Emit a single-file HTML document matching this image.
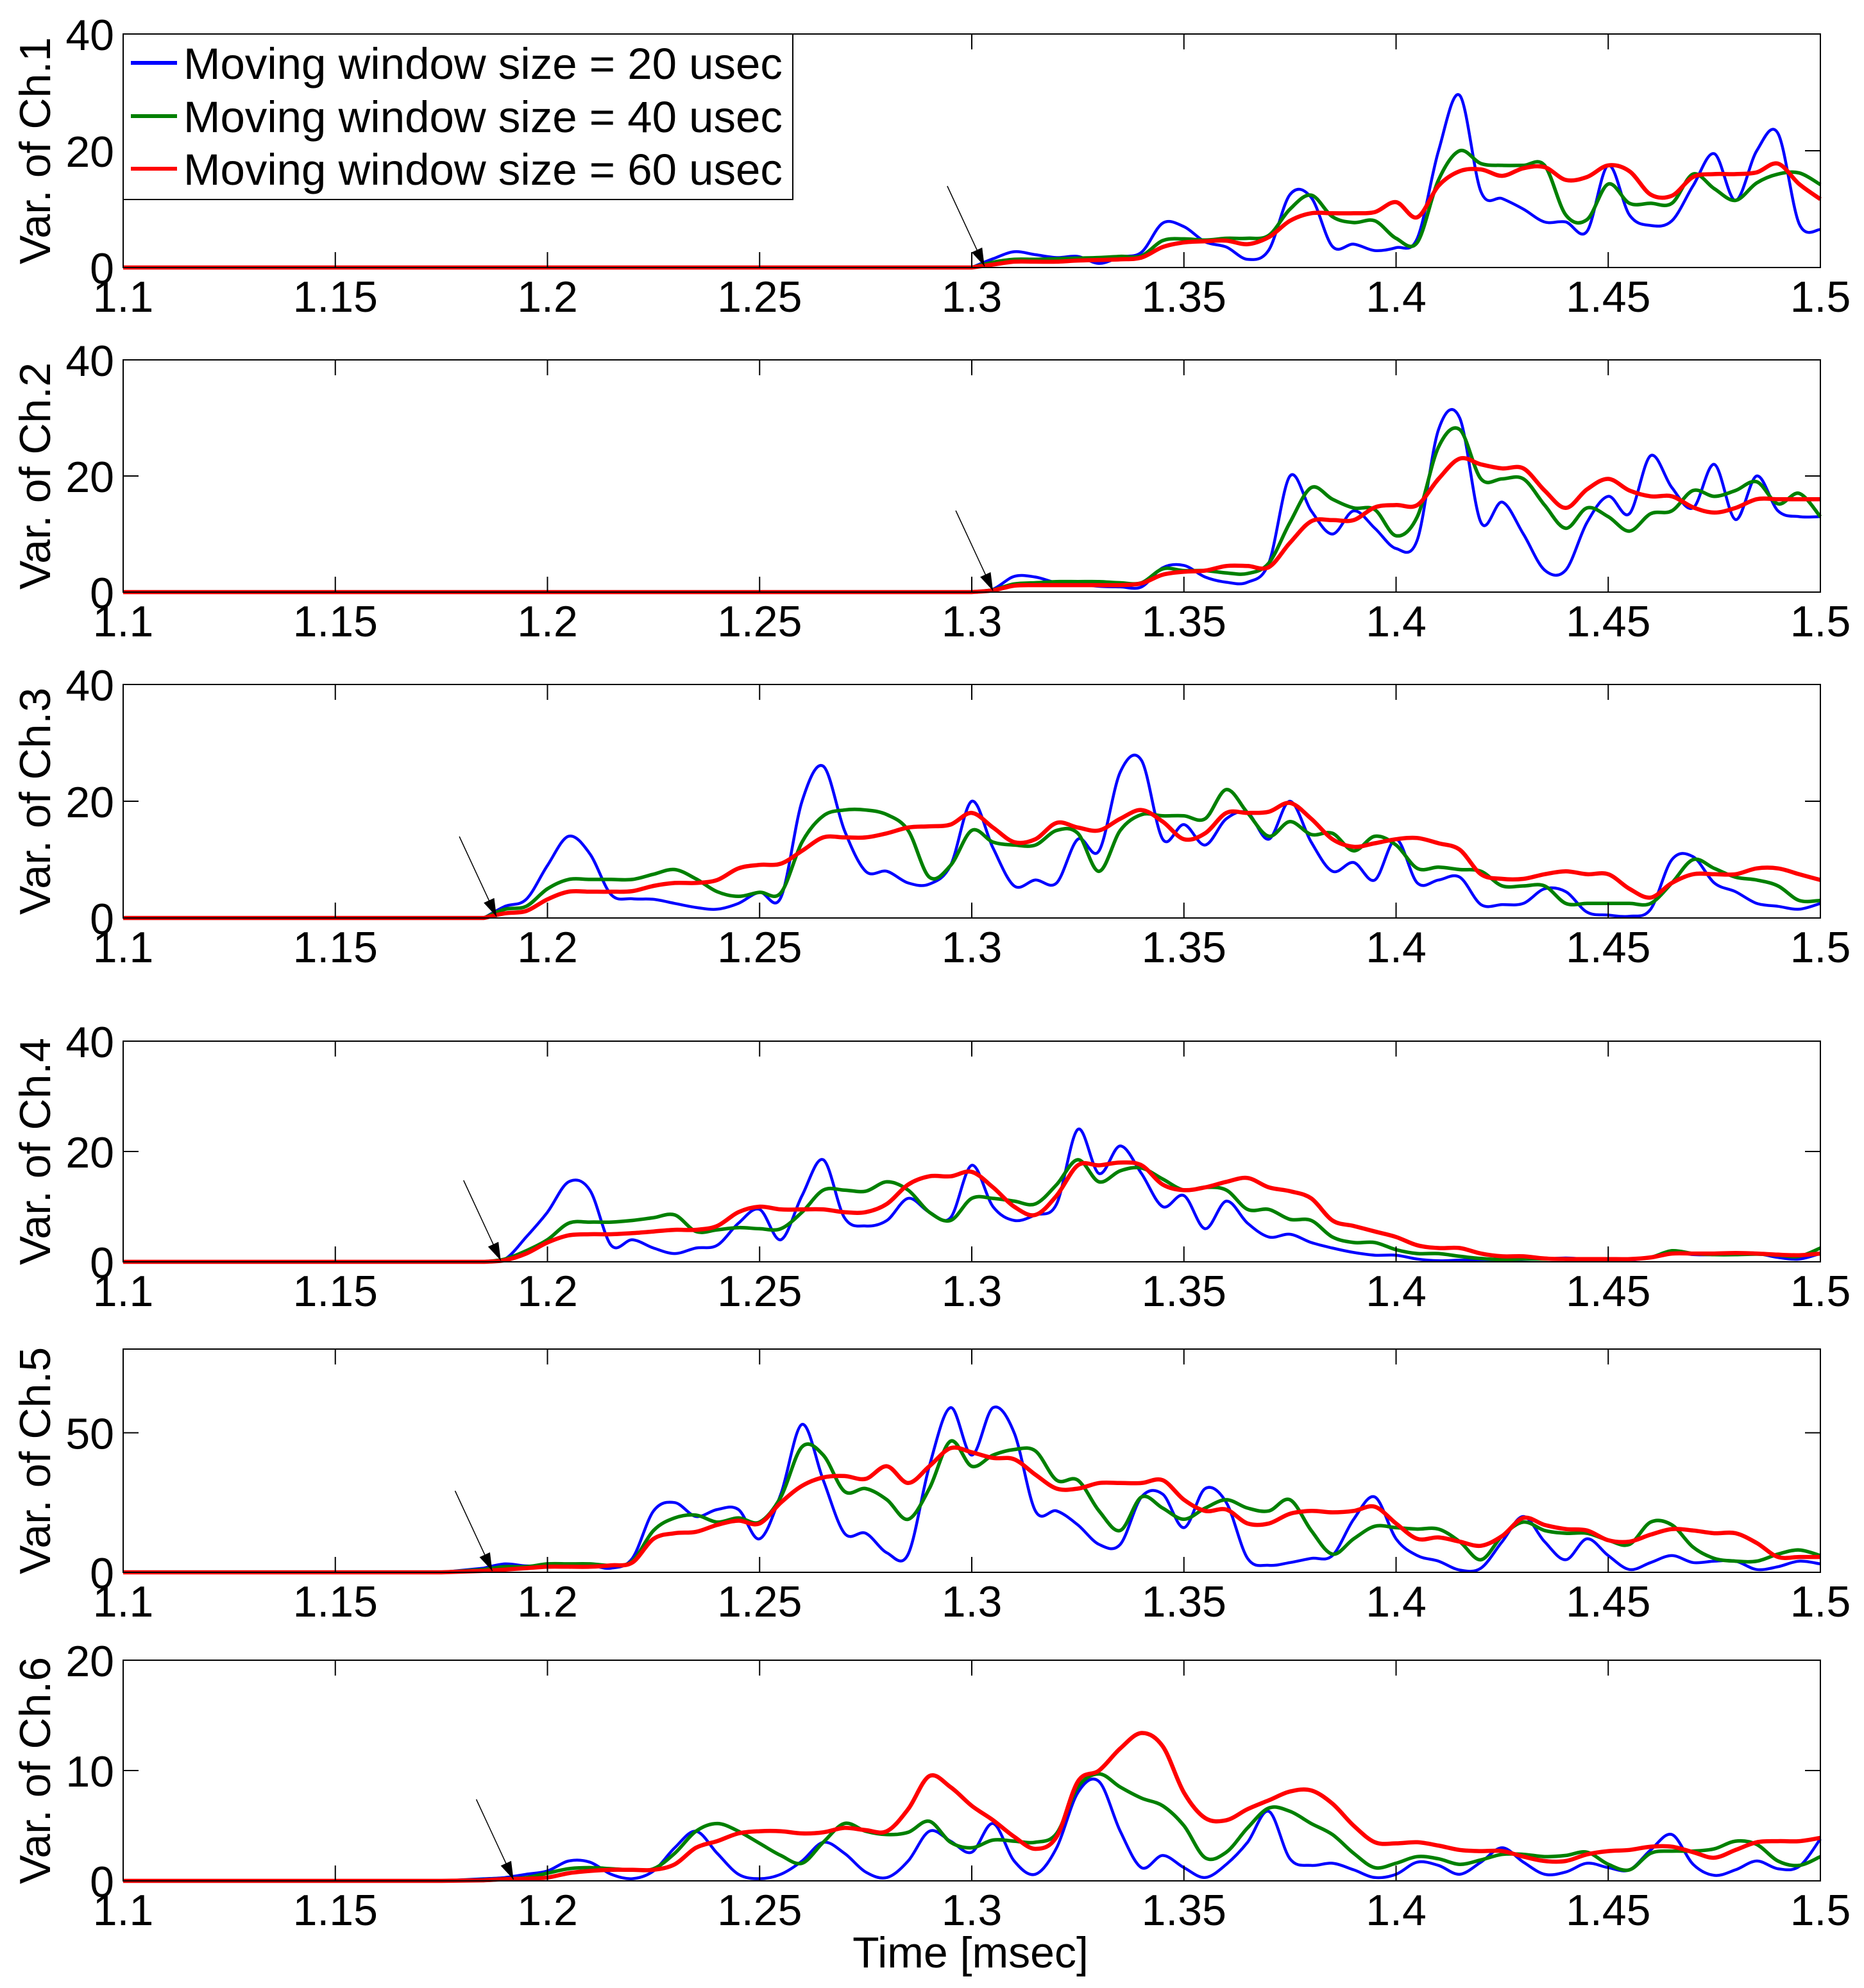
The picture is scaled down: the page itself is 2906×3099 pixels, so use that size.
<!DOCTYPE html>
<html><head><meta charset="utf-8"><style>
html,body{margin:0;padding:0;background:#fff;}
svg{display:block;font-family:"Liberation Sans",Arial,sans-serif;}
</style></head><body>
<svg id="fig" width="2906" height="3099" viewBox="0 0 2906 3099" xmlns="http://www.w3.org/2000/svg">
<rect x="0" y="0" width="2906" height="3099" fill="#fff"/>
<g id="root"></g>
</svg>
<script>
// x tick labels
const xTicks = [1.1,1.15,1.2,1.25,1.3,1.35,1.4,1.45,1.5];
const xTickLabels = ["1.1","1.15","1.2","1.25","1.3","1.35","1.4","1.45","1.5"];
const seriesNames = ["Moving window size = 20 usec","Moving window size = 40 usec","Moving window size = 60 usec"];
const channelLabels = ["Var. of Ch.1","Var. of Ch.2","Var. of Ch.3","Var. of Ch.4","Var. of Ch.5","Var. of Ch.6"];
const yMax = [40,40,40,40,80,20];
const yTicks1 = [0,20,40];
const yTicks5 = [0,50];
const yTicks6 = [0,10,20];
const xStart = [1.300,1.300,1.185,1.185,1.185,1.185];
const xStep = 0.005;
const arrowTipX = [1.303,1.305,1.188,1.189,1.187,1.192];

const ch1B=[0,1.5,2.7,2.2,1.7,1.9,0.7,1.8,2.6,7.6,7.0,4.4,3.5,1.4,3.0,12.5,12.0,3.6,4.0,2.9,3.4,5,20,29.5,13,11.8,10,7.8,7.8,6.2,17.5,9,7.2,8,14,19.5,11.5,20,23,7.5,6.5];
const ch1G=[0,0.9,1.4,1.4,1.5,1.6,1.7,1.9,2.0,4.6,4.9,4.7,5.0,5.0,5.5,10,12.4,8.7,7.7,8.0,5,4.3,15,20,17.8,17.5,17.5,17.5,9,8.2,14.3,11,11,11,16,13.5,11.5,14.5,16,16.2,14.2];
const ch1R=[0,0.5,1.0,1.0,1.0,1.2,1.3,1.4,1.7,3.5,4.3,4.5,4.6,4.0,5.2,8.0,9.3,9.3,9.3,9.5,11.2,8.6,14,16.5,16.8,15.7,17,17.2,15,15.5,17.5,16.5,12.5,12.3,15.5,16,16,16.3,17.8,14.3,11.7];

const ch2B=[0,0.5,2.7,2.6,1.6,1.4,1.0,0.9,0.9,4.2,4.6,2.6,1.7,1.7,5,20,14,10,14,11,7.5,9,28,30,12,15.5,10,3.8,3.8,12,16.5,13.5,23.5,18,14.5,22,12.5,20,14,13,13];
const ch2G=[0,0.4,1.4,1.6,1.8,1.8,1.8,1.6,1.6,4.0,3.7,3.7,3.3,3.2,5,12,18,16,14.5,14.2,9.7,13,25,28,19.5,19.5,19.5,15,11,14.5,13,10.5,13.5,14,17.5,16.5,17.5,19,15.2,17,13];
const ch2R=[0,0.3,1.1,1.2,1.2,1.2,1.2,1.2,1.5,3.0,3.5,3.7,4.5,4.5,4.3,8.5,12.2,12.4,12.4,14.6,15,15,19.5,23,22,21.3,21.3,17.5,14.5,17.7,19.5,17.5,16.5,16.5,14.6,13.7,14.5,16,16,16,16];

const ch3B=[0,2,3.2,9,14,11,4,3.3,3.2,2.5,1.8,1.5,2.5,4.4,3.5,20,26,15,8,8,6,5.8,9,20,12,5.5,6.5,6,13.5,11.5,25,27,13.5,16,12.5,17,18,13.5,20,13,8,9.5,6.5,13.5,6,6.5,7,2.3,2.3,2.5,5,4.5,1,0.5,0.3,1.5,10,10.5,6,4.5,2.5,2,1.5,2.5];
const ch3G=[0,1.5,2,5,6.6,6.6,6.6,6.6,7.5,8.3,6.7,4.5,3.7,4.4,4.3,13,17.5,18.5,18.5,17.7,15,7,9,15,13,12.5,12.5,15,14.5,8,15,17.7,17.5,17.5,17,22,18,14,16.5,14.3,14.5,11.5,14,12.5,8.5,8.7,8.3,8,5.5,5.5,5.5,2.5,2.5,2.5,2.5,2.5,6,10,8.5,7,6.5,5.5,3,3];
const ch3R=[0,0.8,1.2,3.2,4.5,4.5,4.5,4.6,5.5,6,6,6.5,8.5,9.1,9.3,11.5,13.8,13.8,13.8,14.5,15.5,15.7,16,18,15.5,13,13.5,16.3,15.5,15,17,18.5,16.5,13.5,14.5,18,18,18.2,19.7,17,13.5,12.2,12.8,13.5,13.7,12.8,11.7,7.5,6.7,6.7,7.5,8.0,7.5,7.5,5,3.5,6,7.5,7.5,7.5,8.5,8.5,7.5,6.5];

const ch4B=[0,0.5,4.5,9,14.5,13,3,4,2.5,1.5,2.5,3,7,9.5,4,12,18.5,8,6.5,7.5,11.5,9,8,17.5,10,7.5,8.5,10.5,24,16,21,16,10,12,6,11,7,4.5,5,3.5,2.5,1.7,1.2,1.2,0.5,0.2,0.3,0.3,0.2,0.4,0.5,0.7,0.5,0.5,0.3,0.8,1.8,1.3,1.3,1.5,1.5,0.8,0.5,1.5];
const ch4G=[0,0.5,2,4,7,7.2,7.2,7.5,8,8.5,5.5,5.8,6.2,6,6,9,13,13,12.8,14.5,13,9,7.5,11.5,11.5,11,10.5,14,18.5,14.5,16.5,17,15,13,13.5,13,9.5,9.5,7.7,7.5,4.5,3.5,3.5,2.2,1.5,1.5,1,0.6,0.4,0.5,0.5,0.5,0.5,0.5,0.5,0.8,2,1.5,1.3,1.3,1.4,1.2,1.0,2.5];
const ch4R=[0,0.3,1.5,3.5,4.8,5,5,5.2,5.5,5.8,5.8,6.5,9,10,9.5,9.5,9.5,9,9,10.5,14,15.5,15.5,16.3,13.5,10,8.5,12,17.5,17.5,18,17.5,14,13,13.5,14.5,15.2,13.5,12.8,11.5,7.5,6.5,5.5,4.5,3,2.5,2.5,1.5,1,1,0.6,0.5,0.5,0.5,0.5,0.8,1.5,1.5,1.5,1.6,1.5,1.3,1.2,1.5];

const ch5B=[1.5,3,2.3,2.5,2.5,2.5,1.5,5,22,25,20,22.5,22.5,12,28,53,33,14,14,7,6.5,38,59,42,59,50,22,22,17,10,10,27,28,16,30,25,5,2.5,3.5,5,6,19,27,12,6,4,0.8,1.5,11,20,11,4.5,12,6,1,3.5,6,3.5,4,4,1,2,4,3];
const ch5G=[1,2,2,3,3,3,2.5,4,15,19.5,20.5,18,19.5,18,27,45,42,29,30,26,19,30,47,38,42,44,43.5,33,33,22,15,27,23,19,23,26,23,22,26,15,6.5,12,16.5,16,15.5,15.5,11,4.5,13,18,15,14,14,11.5,10,18,17,9,5,4,4,6.5,8,6];
const ch5R=[0.5,1,1.5,2,2,2,2.5,3.5,12,14,14.5,17,18.5,17.5,25,31,34,34.5,33.5,38,32,38,44.5,43,41,40.5,35,30,30,32,32,32,33,26,22,22.5,17.5,17.5,21,22,21.5,22,23.5,17.5,12,12.5,11,9.5,13,19.5,17,15.5,15,11.5,11,13.5,15.5,15,14,14,10.5,5.5,5.5,5.5];

const ch6B=[0.2,0.3,0.6,0.9,1.8,1.7,0.6,0.2,0.9,3,4.5,2.5,0.6,0.2,0.6,1.8,3.5,2.5,0.8,0.3,1.8,4.5,3.6,2.6,5.2,1.8,0.6,3,8,9,4.5,1.2,2.3,1.2,0.3,1.5,3.5,6.3,2,1.4,1.6,1.0,0.3,0.6,1.7,1.4,0.6,1.7,3,1.7,0.6,0.8,1.6,1.2,1.0,2.8,4.2,1.5,0.5,1.0,1.8,1.1,1.3,3.8];
const ch6G=[0.1,0.2,0.3,0.7,1.1,1.2,1.1,1,1.1,2.5,4.5,5.2,4.5,3.4,2.3,1.6,3.5,5.2,4.5,4.2,4.4,5.4,3.5,3,3.7,3.6,3.5,4.3,8.5,9.7,8.5,7.5,6.8,5,2.1,2.6,4.8,6.6,6.3,5.2,4.2,2.5,1.2,1.6,2.2,2,1.5,1.9,2.4,2.4,2.2,2.3,2.6,1.5,1.0,2.5,2.7,2.7,2.9,3.6,3.3,1.8,1.4,2.2];
const ch6R=[0.05,0.15,0.2,0.3,0.7,0.9,1,1,1.0,1.5,3,3.6,4.3,4.5,4.5,4.3,4.4,4.8,4.6,4.5,6.5,9.5,8.5,6.8,5.5,4,2.9,4,9,10,12,13.4,12.2,8,5.7,5.5,6.5,7.3,8.1,8.2,7,5,3.5,3.4,3.5,3.2,2.8,2.7,2.7,2.2,1.8,1.8,2.4,2.7,2.8,3.1,3.1,2.6,2.1,2.8,3.5,3.6,3.6,3.9];

const blueSeries=[ch1B,ch2B,ch3B,ch4B,ch5B,ch6B];
const greenSeries=[ch1G,ch2G,ch3G,ch4G,ch5G,ch6G];
const redSeries=[ch1R,ch2R,ch3R,ch4R,ch5R,ch6R];

const NS="http://www.w3.org/2000/svg";
const root=document.getElementById('root');
const L=192,R=2838;
const panelTop=[53,561,1067,1623,2103,2588];
const panelBot=[417,923,1431,1967,2451,2932];
const colors=["#0000ff","#008000","#ff0000"];
const widths=[4.5,5.5,6.5];
function mk(tag,attrs,parent){const e=document.createElementNS(NS,tag);for(const k in attrs)e.setAttribute(k,attrs[k]);(parent||root).appendChild(e);return e;}
function xs(v){return L+(v-1.1)/0.4*(R-L);}
function smoothSegs(pts){
  let d='';
  for(let i=0;i<pts.length-1;i++){
    const p0=pts[i>0?i-1:i],p1=pts[i],p2=pts[i+1],p3=pts[i+2<pts.length?i+2:i+1];
    const c1x=p1[0]+(p2[0]-p0[0])/6,c1y=p1[1]+(p2[1]-p0[1])/6;
    const c2x=p2[0]-(p3[0]-p1[0])/6,c2y=p2[1]-(p3[1]-p1[1])/6;
    d+=' C'+c1x.toFixed(1)+','+c1y.toFixed(1)+' '+c2x.toFixed(1)+','+c2y.toFixed(1)+' '+p2[0].toFixed(1)+','+p2[1].toFixed(1);
  }
  return d;
}

for(let p=0;p<6;p++){
  const T=panelTop[p],B=panelBot[p];
  const ys=v=>B-v/yMax[p]*(B-T);
  const g=mk('g',{});
  
  
  const sets=[blueSeries[p],greenSeries[p],redSeries[p]];
  for(let s=0;s<3;s++){
    const vals=sets[s];
    const pts=[];
    for(let i=0;i<vals.length;i++){pts.push([xs(xStart[p]+i*xStep),ys(vals[i])]);}
    let d='M'+xs(1.1).toFixed(1)+','+ys(0).toFixed(1);
    if(p>=4){d+=' L'+xs(1.175).toFixed(1)+','+ys(0).toFixed(1);}
    d+=' L'+pts[0][0].toFixed(1)+','+pts[0][1].toFixed(1);
    d+=smoothSegs(pts);
    const pl=mk('path',{d:d,fill:'none',stroke:colors[s],'stroke-width':widths[s],'stroke-linejoin':'round'},g);
    
    
  }
  const box=mk('rect',{x:L,y:T,width:R-L,height:B-T,fill:'none',stroke:'#000','stroke-width':2},g);
  
  
  for(let i=0;i<xTicks.length;i++){
    const x=xs(xTicks[i]);
    mk('line',{x1:x,y1:B,x2:x,y2:B-24,stroke:'#000','stroke-width':2},g);
    mk('line',{x1:x,y1:T,x2:x,y2:T+24,stroke:'#000','stroke-width':2},g);
    const t=mk('text',{x:x,y:B+69,'font-size':68,'text-anchor':'middle',fill:'#000'},g);
    t.textContent=xTickLabels[i];
    
    
  }
  const yt=p===4?yTicks5:(p===5?yTicks6:yTicks1);
  for(const v of yt){
    const y=ys(v);
    mk('line',{x1:L,y1:y,x2:L+24,y2:y,stroke:'#000','stroke-width':2},g);
    mk('line',{x1:R,y1:y,x2:R-24,y2:y,stroke:'#000','stroke-width':2},g);
    const t=mk('text',{x:178,y:y+25,'font-size':68,'text-anchor':'end',fill:'#000'},g);
    t.textContent=String(v);
    
    
  }
  const cy=(T+B)/2;
  const yl=mk('text',{x:0,y:0,'font-size':68,'text-anchor':'middle',fill:'#000',transform:'translate(78,'+cy+') rotate(-90)'},g);
  yl.textContent=channelLabels[p];
  
  
  const tx=xs(arrowTipX[p]),ty=B-2;
  const sx=tx-58,sy=ty-125;
  const ar=mk('line',{x1:sx,y1:sy,x2:tx,y2:ty,stroke:'#000','stroke-width':1.5},g);
  
  
  const ang=Math.atan2(ty-sy,tx-sx);
  const hl=28,hw=9;
  const bx=tx-hl*Math.cos(ang),by=ty-hl*Math.sin(ang);
  const px=-Math.sin(ang)*hw,py=Math.cos(ang)*hw;
  const ah=mk('polygon',{points:tx+','+ty+' '+(bx+px)+','+(by+py)+' '+(bx-px)+','+(by-py),fill:'#000'},g);
  
  
}
const lg=mk('g',{});


mk('rect',{x:L,y:53,width:1044,height:258,fill:'#fff',stroke:'#000','stroke-width':2},lg);
const rowsY=[98,181,263];
for(let s=0;s<3;s++){
  const e=mk('g',{},lg);
  
  
  mk('line',{x1:204,y1:rowsY[s],x2:276,y2:rowsY[s],stroke:colors[s],'stroke-width':6},e);
  const t=mk('text',{x:286,y:rowsY[s]+25,'font-size':69,fill:'#000'},e);
  t.textContent=seriesNames[s];
}
const xl=mk('text',{x:1513,y:3067,'font-size':68,'text-anchor':'middle',fill:'#000'});
xl.textContent="Time [msec]";


</script>
</body></html>
